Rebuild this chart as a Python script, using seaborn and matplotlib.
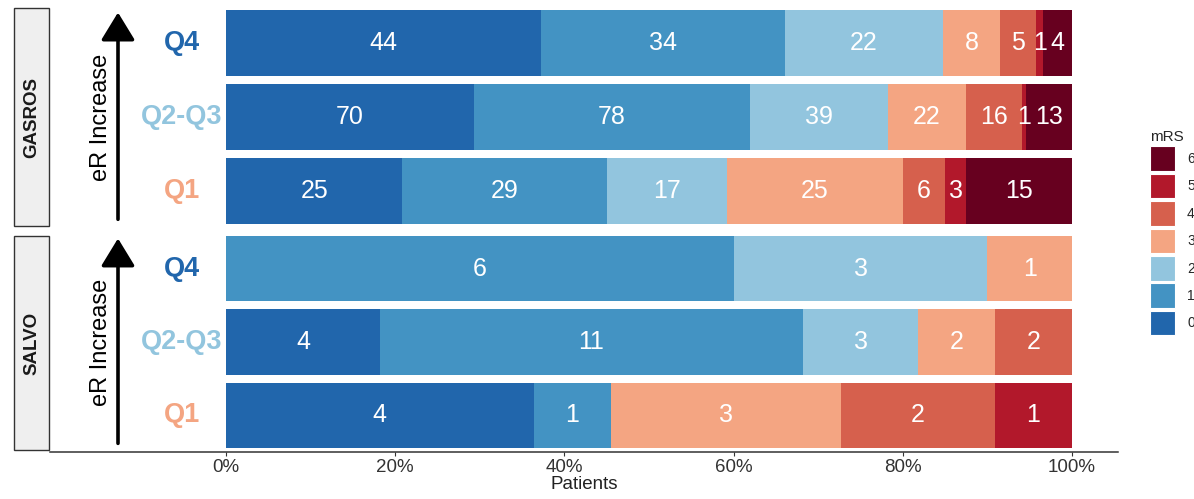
import matplotlib
matplotlib.use("Agg")
import matplotlib.pyplot as plt
from matplotlib.patches import Patch, Rectangle
import numpy as np
import pandas as pd
import seaborn as sns

# mRS levels and their colours (RdBu style)
mrs_levels = [0, 1, 2, 3, 4, 5, 6]
mrs_colors = ["#2166AC", "#4393C3", "#92C5DE", "#F4A582", "#D6604D", "#B2182B", "#67001F"]

studies = ["GASROS", "SALVO"]
quart_order = ["Q4", "Q2-Q3", "Q1"]
quart_colors = ["#2166AC", "#92C5DE", "#F4A582"]

# patient counts per mRS level (0..6)
gasros_q4 = [44, 34, 22, 8, 5, 1, 4]
gasros_q23 = [70, 78, 39, 22, 16, 1, 13]
gasros_q1 = [25, 29, 17, 25, 6, 3, 15]
salvo_q4 = [0, 6, 3, 1, 0, 0, 0]
salvo_q23 = [4, 11, 3, 2, 2, 0, 0]
salvo_q1 = [4, 1, 0, 3, 2, 1, 0]

counts = {
    ("GASROS", "Q4"): gasros_q4,
    ("GASROS", "Q2-Q3"): gasros_q23,
    ("GASROS", "Q1"): gasros_q1,
    ("SALVO", "Q4"): salvo_q4,
    ("SALVO", "Q2-Q3"): salvo_q23,
    ("SALVO", "Q1"): salvo_q1,
}

rows = []
for (study, quart), vals in counts.items():
    for lvl, n in zip(mrs_levels, vals):
        rows.append({"study": study, "quartile": quart, "mrs": lvl, "n": n})
df = pd.DataFrame(rows)
df["pct"] = df["n"] / df.groupby(["study", "quartile"])["n"].transform("sum") * 100
df["cum"] = df.groupby(["study", "quartile"])["pct"].cumsum()
df["mid"] = df["cum"] - df["pct"] / 2

sns.set_theme(style="white")
plt.rcParams["font.family"] = ["Liberation Sans", "DejaVu Sans"]

W, H = 1194, 499
fig = plt.figure(figsize=(W / 100, H / 100), dpi=100)

# pixel layout: panel x from 50 to 1118, 0% at 226 and 100% at 1072
px0, px1 = 50, 1118
x0pct, x100pct = 226, 1072
ppu = (x100pct - x0pct) / 100
xlim = ((px0 - x0pct) / ppu, (px1 - x0pct) / ppu)

panels = {"GASROS": (6, 228), "SALVO": (232, 452)}
strips = {"GASROS": (8, 226), "SALVO": (236, 450)}

for study in studies:
    top, bot = panels[study]
    ax = fig.add_axes([px0 / W, 1 - bot / H, (px1 - px0) / W, (bot - top) / H])
    sub = df[df["study"] == study]
    # overlay cumulative bars from the largest level down
    for lvl in reversed(mrs_levels):
        sns.barplot(data=sub[sub["mrs"] == lvl], x="cum", y="quartile", order=quart_order,
                    color=mrs_colors[lvl], saturation=1, width=0.89, errorbar=None,
                    orient="h", ax=ax, linewidth=0)
    for _, r in sub[sub["n"] > 0].iterrows():
        ax.text(r["mid"], quart_order.index(r["quartile"]), str(r["n"]), color="white",
                fontsize=18, ha="center", va="center")
    for i, (q, c) in enumerate(zip(quart_order, quart_colors)):
        ax.text((182 - x0pct) / ppu, i, q, color=c, fontsize=19.5, fontweight="bold",
                ha="center", va="center")
    ax.set_xlim(*xlim)
    ax.set_ylim(2.5, -0.5)
    ax.set_yticks([])
    ax.set_ylabel("")
    for s in ["top", "left", "right"]:
        ax.spines[s].set_visible(False)

    # arrow and label
    ax.annotate("", xy=((118 - x0pct) / ppu, -0.45), xytext=((118 - x0pct) / ppu, 2.42),
                arrowprops=dict(arrowstyle="-|>,head_length=0.95,head_width=0.58",
                                color="black", lw=2.6, mutation_scale=18))
    ax.text((101 - x0pct) / ppu, 1, "eR Increase", rotation=90, fontsize=17,
            ha="center", va="center", color="black")

    if study == "SALVO":
        ax.spines["bottom"].set_color("#333333")
        ax.spines["bottom"].set_linewidth(1.1)
        ax.set_xticks([0, 20, 40, 60, 80, 100])
        ax.set_xticklabels(["0%", "20%", "40%", "60%", "80%", "100%"], fontsize=13.5, color="#333333")
        ax.tick_params(axis="x", bottom=True, length=3, width=0.8, color="#333333", pad=2)
        ax.set_xlabel("Patients", fontsize=13.5, labelpad=0, color="#222222")
    else:
        ax.spines["bottom"].set_visible(False)
        ax.set_xticks([])
        ax.set_xlabel("")

    # facet strip
    st, sb = strips[study]
    fig.patches.append(Rectangle((14 / W, 1 - sb / H), 35 / W, (sb - st) / H,
                                 transform=fig.transFigure, facecolor="#EFEFEF",
                                 edgecolor="#333333", linewidth=1.0))
    fig.text(31.5 / W, 1 - (st + sb) / 2 / H, study, rotation=90, fontsize=13.5,
             fontweight="bold", ha="center", va="center", color="#1A1A1A")

handles = [Patch(facecolor=mrs_colors[l], edgecolor="white", linewidth=0.8, label=str(l))
           for l in reversed(mrs_levels)]
leg = fig.legend(handles=handles, title="mRS", loc="upper left",
                 bbox_to_anchor=(1144 / W, 1 - 124 / H), frameon=False, fontsize=10,
                 title_fontsize=11, handlelength=1.8, handleheight=2.35,
                 labelspacing=0.2, handletextpad=0.9, borderaxespad=0)
leg._legend_box.align = "left"

fig.savefig("out.png", dpi=100)
